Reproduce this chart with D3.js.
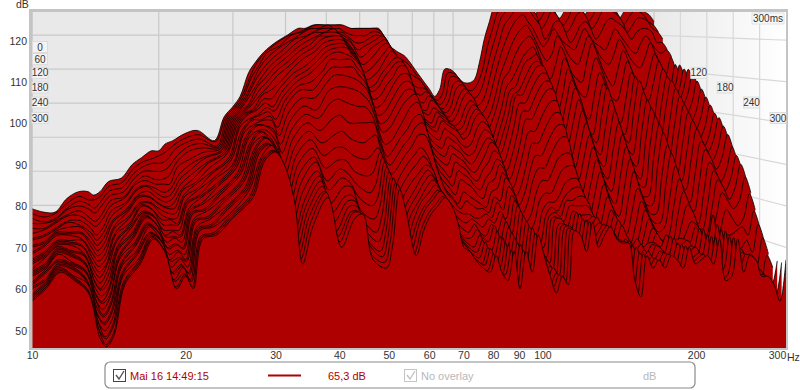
<!DOCTYPE html>
<html>
<head>
  <meta charset="UTF-8">
  <title>Waterfall</title>
  <script src="https://d3js.org/d3.v7.min.js"></script>
  <style>
    body { margin: 0; background: #fff; }
    text { font-family: "Liberation Sans", Arial, sans-serif; }
    .axis text { font-size: 10.5px; fill: #333; }
    .axis .domain { display: none; }
    .time-label { font-size: 10px; fill: #333; text-anchor: middle; }
  </style>
</head>
<body>
<div id="chart"></div>
<script>
  const dbTicks = [50, 60, 70, 80, 90, 100, 110, 120];
  const freqTicks = [10, 20, 30, 40, 50, 60, 70, 80, 90, 100, 200, 300];
  const leftTimeLabels = [0, 60, 120, 180, 240, 300];
  const rightTimeLabels = [120, 180, 240, 300];
  const wallTimes = [60, 120, 180, 240];

  const freqs = [10,10.65,11.35,12.1,12.9,13.6,14,14.5,15.2,16.3,17.3,18.2,19.2,20,20.7,21.6,23,24.7,27.1,
    28.6,30,31.2,32.7,33.9,35.5,38,40.4,42.9,44.5,46.6,49.5,50.8,
    52.5,54,56.6,58.5,60.5,62.4,64.4,66.5,68.3,70.2,72.1,74,76.5,79,
    81.1,83.3,85.6,88,90.4,92.9,95.5,98.1,100.8,103.6,106.5,109.4,112.4,115.5,118.7,122,125.4,128.8,132.4,136,
    139.8,143.7,147.6,151.7,155.9,160.2,164.7,169.2,173.9,178.7,183.7,188.7,194,199.3,204.8,210.5,216.4,222.3,
    228.5,234.8,241.3,248,254.8,261.9,269.1,276.6,284.2,292,300];

  const sliceTimes = [0,10,20,30,40,50,60,70,80,90,100,110,120,130,140,150,160,170,180,190,200,210,220,230,240,250,260,270,280,290,300];

  // dB per slice, one row for each slice time, same order as freqs
  const sliceLevels = [
    [69,68,68,72,74,74,73,74,77,78,82,84,86,86,88,89,91,92,89, 96,99,102,109,112,115,118,120,122,122,123,123,123, 123,123,122,122,122,122,122,122,120,117,116,115,114,112, 110,108,106,104,102,104,110,110,109,107,106,106,107,112,119,124,129,131,133,134,134,134,132,130,126,128,131,130,127,125,127,130,131,129,126,128,131,132,131,130,128,125,127,129,130,129,127,126,124],
    [68,67,68,71,73,72,72,73,76,77,81,83,84,85,86,88,90,91,89, 96,99,102,108,112,115,118,120,121,122,123,123,123, 123,123,122,122,122,122,122,121,119,116,114,113,112,110, 108,106,104,102,101,103,109,109,108,106,104,104,106,110,117,122,127,129,131,132,132,132,130,128,124,126,129,128,125,123,125,128,129,127,124,126,129,130,129,128,126,123,125,127,127,126,124,123,121],
    [67,66,67,70,72,71,70,72,75,76,80,82,83,83,84,87,89,90,88, 96,99,102,108,111,115,117,120,121,122,122,123,122, 122,121,120,120,120,121,121,120,118,114,112,110,109,108, 107,105,103,101,100,102,108,108,107,104,102,102,104,109,115,120,125,127,129,130,130,130,128,126,122,124,127,126,123,121,123,126,127,125,122,124,127,128,127,126,124,121,123,125,125,124,122,121,119],
    [66,66,67,70,71,70,69,71,74,75,79,81,81,81,82,85,88,89,88, 96,99,102,107,111,114,117,119,121,122,122,122,121, 121,120,118,118,119,120,120,119,116,112,109,107,106,105, 105,104,102,100,99,101,106,107,106,103,100,100,102,107,113,118,123,125,127,128,128,127,125,123,119,121,124,124,121,118,120,123,124,122,119,121,124,125,124,123,121,119,121,122,122,121,118,118,116],
    [65,65,67,69,70,68,67,69,73,74,78,80,79,79,80,84,87,88,88, 96,99,102,107,110,113,116,119,120,121,122,122,121, 120,119,116,117,118,119,120,118,114,110,107,105,104,103, 104,103,101,99,98,100,105,106,105,102,99,98,100,105,111,116,120,123,125,126,124,122,119,117,119,122,120,118,117,116,119,122,120,118,117,116,119,122,120,118,116,115,118,120,118,116,115,116,114],
    [64,65,67,69,69,67,66,68,72,74,78,79,78,78,78,83,85,87,88, 96,99,102,106,109,112,115,118,120,121,121,122,120, 119,118,114,115,117,118,119,117,113,109,105,103,102,101, 103,102,100,98,97,99,103,105,104,101,97,96,98,103,109,113,117,120,122,123,121,118,115,113,115,120,118,115,113,112,116,120,118,115,113,112,115,119,117,114,112,111,114,118,115,112,109,114,110],
    [63,64,66,68,68,66,64,66,71,73,77,78,77,76,77,81,84,86,88, 96,99,101,106,108,111,114,117,119,120,121,121,120, 118,116,112,113,115,117,118,116,112,108,104,102,100,99, 102,101,99,97,96,98,102,104,103,100,96,94,97,102,108,110,114,117,119,120,118,114,110,108,112,117,114,110,108,107,113,118,115,111,108,106,111,116,113,109,106,105,110,115,112,108,106,112,108],
    [63,64,66,68,67,65,63,65,70,73,77,78,76,75,76,80,83,86,88, 96,99,101,105,107,110,113,116,118,120,120,120,119, 117,115,110,111,113,115,117,115,111,107,103,100,99,98, 100,99,98,96,95,96,100,102,101,98,93,91,95,100,106,108,111,114,116,117,114,110,106,103,108,114,111,107,104,103,109,114,111,107,103,102,107,113,110,106,103,102,107,113,110,106,106,112,108],
    [62,63,66,67,67,64,62,64,69,72,76,77,75,74,75,79,82,85,88, 96,99,101,104,106,109,112,115,117,119,120,120,118, 116,114,108,109,111,114,116,114,110,106,101,98,97,96, 99,98,97,95,94,95,99,101,100,97,92,90,94,99,105,106,110,113,114,115,112,107,102,99,104,111,108,103,99,97,104,110,107,102,98,96,103,110,107,102,98,96,104,111,108,103,105,111,107],
    [62,63,66,66,66,63,61,63,69,72,76,76,74,73,74,78,81,85,88, 96,99,100,104,105,107,111,114,116,118,119,119,117, 115,112,106,107,110,112,114,114,110,105,100,98,96,95, 98,97,96,95,93,94,98,100,99,96,91,89,93,98,104,105,108,111,113,113,110,105,100,96,102,108,105,100,95,93,101,107,104,99,95,93,101,109,105,100,96,94,102,109,106,102,105,111,107],
    [61,63,66,66,66,62,60,62,68,72,76,76,74,73,73,78,80,84,88, 96,99,100,103,103,106,110,112,115,117,118,118,116, 114,111,105,106,109,111,113,113,110,104,100,97,95,94, 97,96,95,94,92,93,97,99,98,95,90,88,92,98,104,104,107,110,112,112,109,104,98,94,100,106,103,98,93,91,99,106,102,97,93,91,100,108,104,99,95,93,101,108,105,101,104,110,106],
    [61,63,66,66,65,61,59,61,68,71,75,75,73,72,72,77,80,83,87, 96,99,100,102,101,105,109,111,114,116,117,117,115, 113,109,103,104,107,109,112,112,109,103,98,95,93,92, 95,94,93,91,90,91,95,97,96,93,87,86,90,96,102,102,105,108,110,110,106,101,95,91,97,103,99,94,90,88,96,103,99,94,90,88,97,105,101,96,92,90,98,106,103,99,102,108,104],
    [60,62,65,65,65,60,58,60,67,71,75,75,72,71,71,77,79,83,87, 96,98,99,101,100,104,108,110,113,115,116,115,114, 112,108,101,102,105,108,110,110,107,101,96,93,91,90, 93,92,91,89,88,89,93,95,94,91,85,84,88,94,100,100,103,106,108,108,104,98,92,88,94,100,96,91,87,85,93,100,96,91,87,85,95,103,99,94,90,88,96,104,101,97,100,106,102],
    [60,62,65,65,64,59,57,59,67,70,75,74,71,71,70,76,79,82,87, 95,98,99,100,98,103,107,108,111,114,114,114,112, 110,106,99,100,103,106,108,108,105,99,94,91,89,88, 91,90,89,87,86,88,91,93,92,89,83,82,86,92,98,98,101,104,106,106,101,95,89,85,91,97,93,88,84,82,90,97,93,88,84,82,93,101,97,92,88,86,94,102,99,95,98,104,100],
    [60,62,65,65,64,58,56,59,66,70,75,74,70,70,70,76,78,82,86, 95,98,98,99,96,102,106,106,110,112,112,112,110, 108,104,97,98,101,104,106,106,103,97,92,89,87,86, 89,88,87,85,84,86,89,92,91,87,81,80,84,90,95,95,98,101,103,103,98,92,86,82,88,94,90,85,81,79,87,94,90,85,81,80,91,99,95,90,86,84,92,100,97,93,96,102,98],
    [60,62,65,65,63,57,55,58,66,70,74,73,69,69,69,76,78,81,86, 95,97,98,98,94,100,104,104,108,110,110,109,108, 106,102,95,96,99,102,104,105,102,95,90,87,85,83, 87,86,85,83,82,85,87,90,89,85,79,78,81,87,92,92,95,98,100,100,95,89,83,79,85,91,87,82,78,76,84,91,87,82,78,78,89,97,93,88,84,82,90,98,95,91,94,100,96],
    [59,62,65,64,63,56,54,57,65,70,74,73,68,69,68,75,78,81,86, 94,97,97,96,92,98,102,101,106,107,107,106,105, 103,99,92,93,96,99,102,103,100,93,88,85,83,81, 85,84,83,81,80,83,85,88,87,83,77,76,79,85,89,89,92,95,97,97,92,86,80,76,82,88,84,79,75,73,81,88,84,79,76,76,87,95,91,86,82,80,88,96,93,90,93,99,95],
    [59,61,65,64,63,56,54,56,65,69,74,73,68,68,68,75,77,81,86, 94,97,97,95,90,96,100,99,103,104,103,102,102, 100,96,89,91,94,96,99,100,97,91,86,83,81,79, 83,82,81,79,78,82,83,87,85,81,75,74,77,83,86,86,89,92,94,94,89,83,77,73,79,85,81,76,72,71,78,85,81,77,74,74,84,92,88,83,79,77,85,93,91,88,91,97,93],
    [59,61,65,64,62,55,53,55,65,69,74,72,67,68,67,75,77,80,85, 94,96,96,93,87,94,98,96,99,100,98,98,98, 98,93,87,89,92,94,97,98,95,89,84,81,79,77, 80,79,78,77,76,80,81,85,83,79,73,72,74,80,83,83,86,89,90,90,85,80,75,71,76,82,78,74,70,69,75,81,78,74,72,72,82,90,86,81,77,75,83,91,89,86,89,95,91],
    [59,61,65,64,62,54,52,55,64,69,74,72,66,67,66,75,76,80,85, 93,96,95,91,85,92,96,93,95,96,94,93,94, 95,90,85,87,90,92,95,95,92,87,83,80,78,76, 78,77,76,76,75,79,78,84,82,78,72,70,72,78,80,80,83,86,87,87,83,78,73,69,73,79,76,72,68,67,72,78,75,72,70,71,79,87,83,78,74,72,80,88,86,83,86,92,88],
    [59,61,65,64,62,54,52,54,64,69,74,72,66,67,66,75,76,80,85, 93,96,94,89,82,90,94,90,92,92,90,89,90, 92,88,82,85,88,90,92,90,86,82,80,78,76,75, 75,74,74,75,74,78,76,82,80,76,71,69,70,76,78,78,80,83,84,84,81,76,71,67,71,76,73,70,66,65,70,76,73,70,68,69,77,84,80,76,72,71,78,86,84,81,84,90,86],
    [58,61,65,63,61,53,51,54,64,68,73,71,65,66,65,74,76,79,84, 93,95,94,88,80,88,92,87,89,89,86,85,86, 91,87,80,83,86,88,90,88,85,80,78,76,74,73, 74,73,72,74,73,76,74,80,78,74,70,68,68,75,77,76,79,81,82,82,79,74,70,66,70,75,72,69,65,64,69,74,71,69,68,68,75,81,78,74,71,70,77,84,82,79,82,88,84],
    [58,61,64,63,61,53,50,53,63,68,73,71,64,66,64,74,75,79,84, 92,95,93,87,78,86,90,84,87,86,83,81,83, 90,86,78,81,84,86,88,87,83,78,76,74,72,71, 73,71,70,73,71,75,72,79,76,72,68,67,67,75,76,75,79,79,80,80,78,73,69,65,69,74,71,68,65,64,68,72,70,68,68,68,73,78,76,72,70,69,75,81,79,77,79,85,81],
    [58,61,64,63,61,52,50,53,63,68,73,71,64,65,64,74,75,79,84, 92,95,93,86,76,84,89,82,85,84,80,78,80, 89,85,76,79,82,85,87,85,82,76,74,72,70,70, 72,70,69,73,69,74,71,78,75,71,66,67,65,75,75,74,78,78,78,78,76,72,68,64,68,73,70,68,64,63,67,71,69,68,68,68,71,74,73,70,68,68,72,77,75,73,75,81,77],
    [58,60,64,63,60,51,49,52,63,67,73,70,63,65,63,73,75,78,83, 92,94,92,85,74,82,87,79,83,83,77,75,78, 88,84,74,78,81,84,86,84,80,74,73,71,69,68, 71,68,67,72,67,73,69,77,73,69,65,66,64,75,75,73,77,76,76,76,73,73,72,66,63,70,68,70,68,69,69,68,71,69,70,70,69,73,71,70,76,70,71,71,72,73,71,77,73],
    [58,60,64,63,60,51,49,52,62,67,72,70,62,64,62,73,74,78,83, 92,94,92,84,72,80,86,77,81,81,75,72,76, 87,83,73,77,80,83,85,83,79,73,72,70,68,67, 70,67,66,71,65,72,68,76,72,68,63,65,63,74,74,72,77,74,75,76,73,72,72,65,61,70,67,69,67,69,68,67,71,68,69,70,68,73,68,67,74,68,70,69,68,70,67,74,70],
    [57,60,64,63,60,50,48,51,62,67,72,70,62,64,62,73,74,78,83, 92,94,91,83,71,79,85,75,80,80,73,70,74, 86,82,71,76,80,82,84,82,78,72,71,69,67,66, 70,66,65,71,64,71,67,75,71,66,62,64,62,74,74,71,77,73,74,76,73,72,72,64,60,69,66,68,66,69,68,66,71,67,68,69,67,73,66,65,73,66,69,68,66,67,64,71,67],
    [57,60,64,62,60,50,47,50,62,66,72,70,61,64,61,73,74,77,83, 91,94,91,83,69,78,84,73,79,79,71,68,73, 86,81,70,75,79,81,83,81,78,71,70,68,66,65, 69,65,64,70,62,70,66,74,70,65,61,64,62,74,74,70,76,72,74,75,72,72,71,63,59,69,66,68,66,68,67,66,70,67,68,69,67,72,64,64,73,65,69,68,64,65,60,67,64],
    [57,60,64,62,59,49,47,50,61,66,72,69,61,63,61,72,73,77,82, 91,93,91,82,68,77,83,72,78,78,70,67,72, 85,80,69,75,79,81,83,81,77,71,70,68,66,65, 69,65,63,70,61,70,65,74,69,64,60,63,61,74,73,70,76,71,73,75,72,71,71,63,59,68,65,67,65,68,67,65,70,66,67,68,66,72,63,64,72,64,68,67,64,64,62,60,66],
    [57,60,64,62,59,49,46,49,61,66,72,69,60,63,60,72,73,77,82, 91,93,90,82,67,76,83,71,78,78,68,66,71, 85,80,68,74,78,80,82,80,77,70,69,67,65,64, 68,64,63,69,60,69,64,73,68,63,60,63,61,74,73,69,76,70,73,75,72,71,71,62,58,68,65,67,65,68,67,65,70,66,67,68,66,72,62,63,72,64,68,67,63,63,62,58,66],
    [57,60,64,62,59,48,46,49,61,66,72,69,60,63,60,72,73,77,82, 91,93,90,81,66,75,82,70,77,78,67,65,70, 84,79,68,74,78,80,82,80,76,70,69,67,65,64, 68,64,62,69,60,69,64,73,68,63,59,63,61,74,73,69,76,70,73,75,72,71,71,62,58,68,65,67,65,68,67,65,70,66,67,68,66,72,62,63,72,64,68,67,63,63,61,57,67]
  ];

  const plot = {left: 32, top: 12, bottom: 348, right: 786, backRight: 654, backBottom: 288};
  const dbRange = [45.7, 126.8];
  const maxTime = 300;

  const svg = d3.select("#chart").append("svg")
    .attr("width", 800).attr("height", 390)
    .style("display", "block");

  const defs = svg.append("defs");
  const wallFill = defs.append("linearGradient").attr("id", "wallFill");
  wallFill.append("stop").attr("offset", "0%").attr("stop-color", "#e9e9e9");
  wallFill.append("stop").attr("offset", "100%").attr("stop-color", "#ffffff");
  defs.append("clipPath").attr("id", "plotClip").append("rect")
    .attr("x", plot.left).attr("y", plot.top)
    .attr("width", plot.right - plot.left).attr("height", plot.bottom - plot.top);

  // every slice has its own scales, later slices come forward and get bigger
  const xAt = t => d3.scaleLog().domain([10, 300])
    .range([plot.left, plot.backRight + (plot.right - plot.backRight) * t / maxTime]);
  const yAt = t => d3.scaleLinear().domain(dbRange)
    .range([plot.backBottom + (plot.bottom - plot.backBottom) * t / maxTime, plot.top]);

  const xBack = xAt(0), yBack = yAt(0), xFront = xAt(maxTime), yFront = yAt(maxTime);
  const xWall = d3.scaleLinear().domain([0, maxTime]).range([plot.backRight, plot.right]);

  // back plane and right wall
  svg.append("rect").attr("x", plot.left).attr("y", plot.top)
    .attr("width", plot.backRight - plot.left).attr("height", plot.bottom - plot.top)
    .attr("fill", "#e9e9e9");
  svg.append("rect").attr("x", plot.backRight).attr("y", plot.top)
    .attr("width", plot.right - plot.backRight).attr("height", plot.bottom - plot.top)
    .attr("fill", "url(#wallFill)");

  const grid = svg.append("g").attr("clip-path", "url(#plotClip)")
    .attr("fill", "none").attr("stroke", "#c9c9c9").attr("stroke-width", 1.2);

  freqTicks.forEach(f => {
    grid.append("line").attr("x1", xBack(f)).attr("x2", xBack(f))
      .attr("y1", plot.top).attr("y2", plot.backBottom);
  });
  wallTimes.forEach(t => {
    grid.append("line").attr("x1", xWall(t)).attr("x2", xWall(t))
      .attr("y1", plot.top).attr("y2", yAt(t)(dbRange[0]))
      .attr("stroke", "#d8d8d8");
  });
  dbTicks.forEach(db => {
    grid.append("line").attr("x1", plot.left).attr("x2", plot.backRight)
      .attr("y1", yBack(db)).attr("y2", yBack(db));
    const wallLine = d3.line().x(t => xWall(t)).y(t => yAt(t)(db)).curve(d3.curveBasis);
    grid.append("path").attr("d", wallLine([0, 150, maxTime])).attr("stroke", "#d8d8d8");
  });

  // slices, back to front
  const slices = svg.append("g").attr("clip-path", "url(#plotClip)");
  sliceTimes.forEach((t, i) => {
    const x = xAt(t), y = yAt(t);
    const pts = sliceLevels[i].map((v, j) => [freqs[j], v]).filter(p => p[0]);
    const area = d3.area().x(p => x(p[0])).y0(plot.bottom).y1(p => y(p[1]))
      .curve(d3.curveCatmullRom.alpha(0.5));
    const line = d3.line().x(p => x(p[0])).y(p => y(p[1]))
      .curve(d3.curveCatmullRom.alpha(0.5));
    slices.append("path").attr("d", area(pts)).attr("fill", "#ae0000");
    slices.append("path").attr("d", line(pts)).attr("fill", "none")
      .attr("stroke", "#000").attr("stroke-width", 0.9).attr("stroke-opacity", 0.9);
  });

  // plot frame
  const frame = svg.append("g").attr("fill", "#c4c4c4");
  frame.append("rect").attr("x", 29).attr("y", 9).attr("width", 759).attr("height", 3);
  frame.append("rect").attr("x", 29).attr("y", 9).attr("width", 3.5).attr("height", 341);
  frame.append("rect").attr("x", 786).attr("y", 9).attr("width", 2).attr("height", 341);
  frame.append("rect").attr("x", 29).attr("y", 348).attr("width", 759).attr("height", 2);

  // axes
  svg.append("g").attr("class", "axis").attr("transform", "translate(27,0.5)")
    .call(d3.axisLeft(yFront).tickValues(dbTicks).tickSize(0).tickPadding(0));
  const xAxis = svg.append("g").attr("class", "axis").attr("transform", "translate(0,352)")
    .call(d3.axisBottom(xFront).tickValues(freqTicks).tickFormat(d3.format("d")).tickSize(0).tickPadding(0));
  xAxis.selectAll(".tick").filter(d => d === 300).select("text").attr("dx", -9);
  svg.append("text").attr("x", 787).attr("y", 360.5).attr("font-size", 10.5).attr("fill", "#333").text("Hz");
  svg.append("text").attr("x", 16).attr("y", 8).attr("font-size", 10.5).attr("fill", "#333").text("dB");

  // time labels
  const timeY = d3.scalePow().exponent(1.1).domain([0, maxTime]).range([47, 118]);
  const timeBox = (cx, cy, label) => {
    const w = String(label).length > 2 ? 16 : 15;
    svg.append("rect").attr("x", cx - w / 2).attr("y", cy - 5.5).attr("width", w).attr("height", 11)
      .attr("fill", "#f3f3f3").attr("stroke", "#dcdcdc");
    svg.append("text").attr("class", "time-label").attr("x", cx).attr("y", cy + 3.5).text(label);
  };
  leftTimeLabels.forEach(t => timeBox(40, timeY(t), t));
  rightTimeLabels.forEach(t => timeBox(xWall(t) - 8, timeY(t), t));
  svg.append("rect").attr("x", 752).attr("y", 13).attr("width", 32).attr("height", 11)
    .attr("fill", "#f8f8f8").attr("stroke", "#e2e2e2");
  svg.append("text").attr("class", "time-label").attr("x", 768).attr("y", 22).text("300ms");

  // legend strip
  const legend = svg.append("g");
  legend.append("rect").attr("x", 105).attr("y", 362).attr("width", 590).attr("height", 26).attr("rx", 5)
    .attr("fill", "#fff").attr("stroke", "#8a8a8a").attr("stroke-width", 1.2);
  legend.append("rect").attr("x", 113.5).attr("y", 369.5).attr("width", 12).attr("height", 12)
    .attr("fill", "#fff").attr("stroke", "#444");
  legend.append("path").attr("d", "M116,375 L119,379 L124,371").attr("fill", "none").attr("stroke", "#555").attr("stroke-width", 1.4);
  legend.append("text").attr("x", 130).attr("y", 380).attr("font-size", 11).attr("fill", "#b00000").text("Mai 16 14:49:15");
  legend.append("line").attr("x1", 268).attr("x2", 301).attr("y1", 375.5).attr("y2", 375.5)
    .attr("stroke", "#b00000").attr("stroke-width", 2);
  legend.append("text").attr("x", 328).attr("y", 380).attr("font-size", 11).attr("fill", "#b00000").text("65,3 dB");
  legend.append("rect").attr("x", 404.5).attr("y", 369.5).attr("width", 12).attr("height", 12)
    .attr("fill", "#fff").attr("stroke", "#c4c4c4");
  legend.append("path").attr("d", "M407,375 L410,379 L415,371").attr("fill", "none").attr("stroke", "#c4c4c4").attr("stroke-width", 1.4);
  legend.append("text").attr("x", 421).attr("y", 380).attr("font-size", 11).attr("fill", "#b8b8b8").text("No overlay");
  legend.append("text").attr("x", 643).attr("y", 380).attr("font-size", 11).attr("fill", "#b8b8b8").text("dB");
</script>
</body>
</html>
